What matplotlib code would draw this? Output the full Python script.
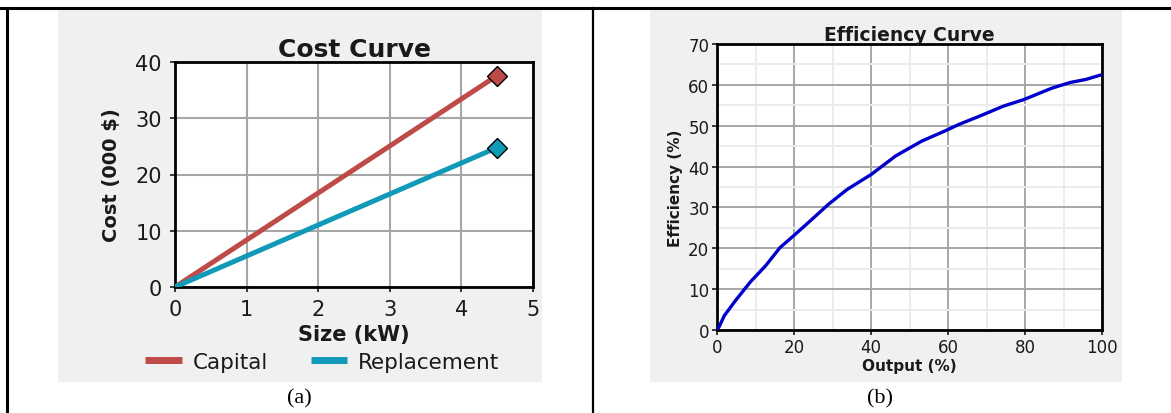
import numpy as np
import matplotlib
matplotlib.use("Agg")
import matplotlib.pyplot as plt
from matplotlib.patches import Rectangle
from matplotlib.lines import Line2D
from matplotlib.ticker import MultipleLocator

# Cost curve data (size in kW, cost in 000 $)
size_kw = [0, 4.5]
capital_cost = [0, 37.6]
replacement_cost = [0, 24.8]

# Efficiency curve data (output %, efficiency %)
output_pct = [0, 0.5, 1.9, 4.8, 8.7, 12.6, 16.4, 20.3, 24.2, 29.0, 33.8, 40.1,
              46.4, 53.1, 59.4, 62.8, 68.6, 74.4, 79.7, 87.0, 91.8, 95.7, 100]
efficiency_pct = [0, 0.7, 3.5, 7.2, 11.8, 15.7, 20.2, 23.4, 26.7, 30.8, 34.4, 38.1,
                  42.6, 46.2, 48.8, 50.3, 52.5, 54.8, 56.4, 59.2, 60.6, 61.3, 62.5]

W, H = 1171, 414
fig = plt.figure(figsize=(W / 100, H / 100), dpi=100)
fig.patch.set_facecolor("white")


def fx(px):
    return px / W


def fy(py):
    return 1 - py / H


# gray panels behind both charts
fig.add_artist(Rectangle((fx(58), fy(383)), fx(542 - 58), (383 - 10) / H,
                         transform=fig.transFigure, facecolor="#f0f0f0", edgecolor="none", zorder=0))
fig.add_artist(Rectangle((fx(650), fy(383)), fx(1122 - 650), (383 - 10) / H,
                         transform=fig.transFigure, facecolor="#f0f0f0", edgecolor="none", zorder=0))

# table borders
fig.add_artist(Line2D([0, 1], [fy(9), fy(9)], transform=fig.transFigure, color="black", lw=2.2))
fig.add_artist(Line2D([fx(7), fx(7)], [fy(9), 0], transform=fig.transFigure, color="black", lw=2.2))
fig.add_artist(Line2D([fx(593), fx(593)], [fy(9), 0], transform=fig.transFigure, color="black", lw=1.6))

txt = "#1a1a1a"
grid_major = "#a6a6a6"

# ---- (a) Cost curve ----
ax1 = fig.add_axes([fx(175), fy(288), fx(533 - 175), (288 - 63) / H])
cap_line, = ax1.plot(size_kw, capital_cost, color="#be4b48", lw=3.6, solid_capstyle="butt", zorder=3)
rep_line, = ax1.plot(size_kw, replacement_cost, color="#109ab8", lw=3.6, solid_capstyle="butt", zorder=3)
ax1.plot(size_kw[-1], capital_cost[-1], marker="D", ms=10.5, color="#be4b48", mec="black", mew=1, zorder=4)
ax1.plot(size_kw[-1], replacement_cost[-1], marker="D", ms=10.5, color="#109ab8", mec="black", mew=1, zorder=4)
ax1.set_xlim(0, 5)
ax1.set_ylim(0, 40)
ax1.set_xticks(range(0, 6))
ax1.set_yticks(range(0, 41, 10))
ax1.grid(True, color=grid_major, lw=1.5)
ax1.set_axisbelow(True)
for s in ax1.spines.values():
    s.set_linewidth(2)
ax1.tick_params(labelsize=15, colors=txt, length=3.5, width=1.2)
ax1.tick_params(axis="y", pad=6)
ax1.tick_params(axis="x", pad=5)
ax1.set_title("Cost Curve", fontsize=18, fontweight="bold", color=txt, pad=4)
ax1.set_xlabel("Size (kW)", fontsize=15, fontweight="bold", color=txt, labelpad=4)
ax1.set_ylabel("Cost (000 $)", fontsize=14, fontweight="bold", color=txt, labelpad=10)

leg = fig.legend([cap_line, rep_line], ["Capital", "Replacement"], loc="center left",
                 bbox_to_anchor=(fx(145), fy(363)), ncol=2, frameon=False, fontsize=15.5,
                 handlelength=1.7, columnspacing=2.0, handletextpad=0.5,
                 borderpad=0, borderaxespad=0)
for t in leg.get_texts():
    t.set_color(txt)
for h in leg.legend_handles:
    h.set_linewidth(5)

# ---- (b) Efficiency curve ----
ax2 = fig.add_axes([fx(717), fy(331), fx(1102 - 717), (331 - 45) / H])
ax2.plot(output_pct, efficiency_pct, color="#0000cc", lw=2.4, zorder=3)
ax2.set_xlim(0, 100)
ax2.set_ylim(0, 70)
ax2.set_xticks(range(0, 101, 20))
ax2.set_yticks(range(0, 71, 10))
ax2.xaxis.set_minor_locator(MultipleLocator(10))
ax2.yaxis.set_minor_locator(MultipleLocator(5))
ax2.grid(True, which="major", color=grid_major, lw=1.4)
ax2.grid(True, which="minor", color="#ececec", lw=1.4)
ax2.set_axisbelow(True)
for s in ax2.spines.values():
    s.set_linewidth(2)
ax2.tick_params(labelsize=12, colors=txt, length=3.5, width=1.2, pad=2)
ax2.tick_params(which="minor", length=0)
ax2.set_title("Efficiency Curve", fontsize=13.5, fontweight="bold", color=txt, pad=3)
ax2.set_xlabel("Output (%)", fontsize=11, fontweight="bold", color=txt, labelpad=2)
ax2.set_ylabel("Efficiency (%)", fontsize=11, fontweight="bold", color=txt, labelpad=4)

# captions
fig.text(fx(299), fy(399), "(a)", family="Liberation Serif", fontsize=16, ha="center", va="center")
fig.text(fx(880), fy(399), "(b)", family="Liberation Serif", fontsize=16, ha="center", va="center")

fig.savefig("out.png", dpi=100)
